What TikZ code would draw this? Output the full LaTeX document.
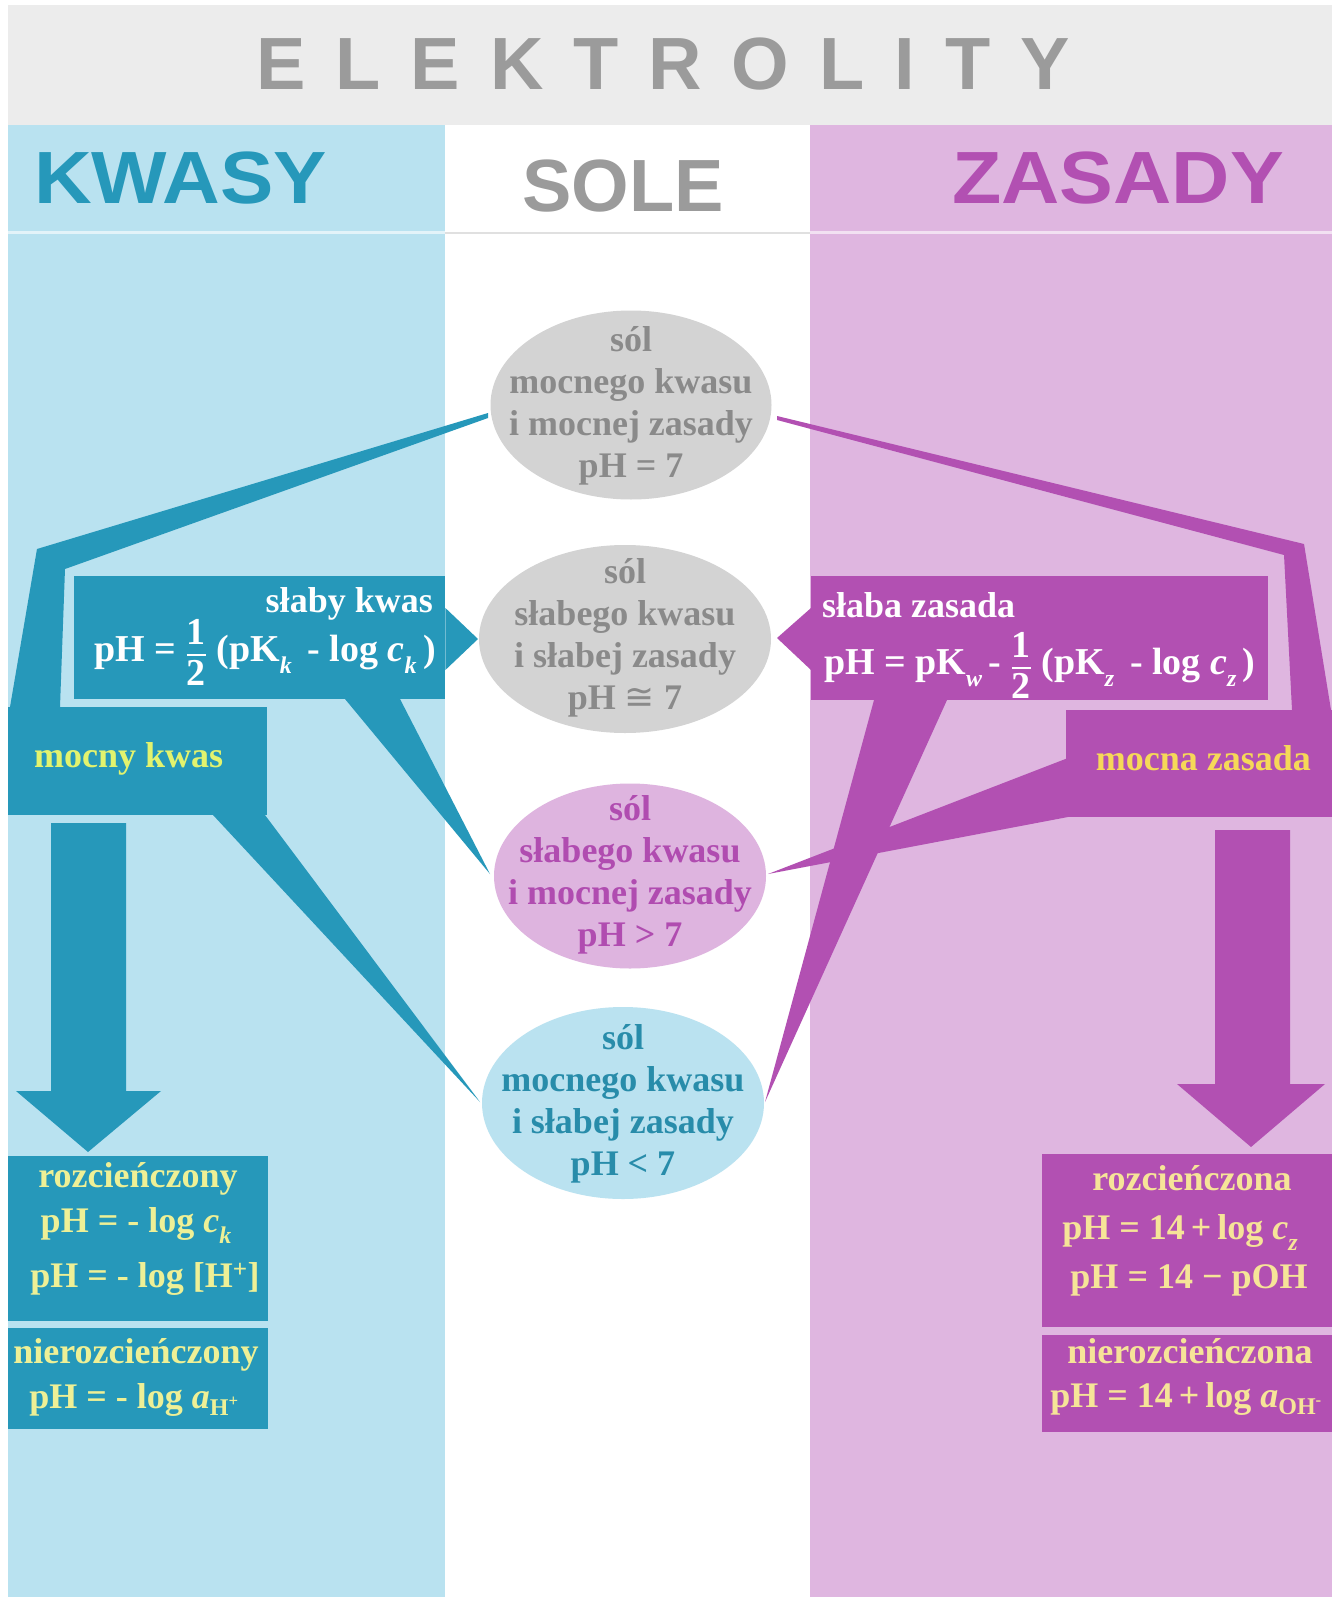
\documentclass[tikz,border=0pt]{standalone}
\usepackage{fontspec}
\usepackage{amsmath}
\usepackage{graphicx}
\setmainfont{Liberation Serif}
\newfontfamily\titlefont{Liberation Sans}
\newfontfamily\symfont{DejaVu Sans}
\usetikzlibrary{shapes.geometric,calc}

\definecolor{hdrBg}{RGB}{236,236,236}
\definecolor{hdrText}{RGB}{155,155,155}
\definecolor{bgBlue}{RGB}{185,226,240}
\definecolor{bgPink}{RGB}{223,182,224}
\definecolor{cTeal}{RGB}{38,152,186}
\definecolor{cPurple}{RGB}{178,80,178}
\definecolor{ellGrey}{RGB}{211,211,211}
\definecolor{txtGrey}{RGB}{138,138,138}
\definecolor{ellPink}{RGB}{222,180,223}
\definecolor{ellBlue}{RGB}{186,226,240}
\definecolor{txtTeal}{RGB}{40,140,170}
\definecolor{txtPurple}{RGB}{176,76,176}
\definecolor{ygreen}{RGB}{226,243,110}
\definecolor{pyellow}{RGB}{238,240,150}
\definecolor{cgold}{RGB}{246,216,88}
\definecolor{pcream}{RGB}{246,228,152}

\newcommand\lsub[2][0.32em]{\raisebox{-#1}{\fontsize{24}{24}\selectfont #2}}
\newcommand\myhalf{$\genfrac{}{}{1.6pt}{0}{\mbox{1}}{\mbox{2}}$}

\tikzset{
  ellbg/.style={ellipse, inner sep=0pt},
  etxt/.style={inner sep=0pt, align=center, font=\bfseries\fontsize{36}{42}\selectfont},
  lbl/.style={inner sep=0pt, font=\bfseries\fontsize{36}{42}\selectfont},
  flbl/.style={inner sep=0pt, font=\bfseries\fontsize{38}{42}\selectfont},
  tbox/.style={fill=cTeal, inner sep=0pt, anchor=north west},
  pbox/.style={fill=cPurple, inner sep=0pt, anchor=north west},
  ttl/.style={inner sep=0pt, font=\titlefont\bfseries\fontsize{74}{80}\selectfont},
}

\begin{document}
\begin{tikzpicture}[x=1pt,y=-1pt]
\path[use as bounding box] (0,0) rectangle (1342,1597);
\fill[white] (0,0) rectangle (1342,1597);

% header and columns
\fill[hdrBg] (8,5) rectangle (1332,125);
\fill[bgBlue] (8,125) rectangle (445,1597);
\fill[bgPink] (810,125) rectangle (1332,1597);
\draw[white, opacity=.6, line width=3pt] (8,233) -- (445,233);
\draw[black!12, line width=2pt] (445,233) -- (810,233);
\draw[white, opacity=.6, line width=3pt] (810,233) -- (1332,233);

% titles
\node[ttl, text=hdrText, anchor=base] (tElek) at (663,90) {\makebox[813pt][s]{E L E K T R O L I T Y}};
\node[ttl, text=cTeal, anchor=base west] (tKw) at (34,204) {\scalebox{1.08}[1]{KWASY}};
\node[ttl, text=hdrText, anchor=base west] (tSo) at (522,212) {SOLE};
\node[ttl, text=cPurple, anchor=base west] (tZa) at (952,204) {\scalebox{1.09}[1]{ZASADY}};

% connectors (left, teal)
\fill[cTeal] (488,413) -- (37,549) -- (10,707) -- (60,707) -- (65,569) -- (488,418) -- cycle;
\fill[cTeal] (345,699) -- (400,699) -- (490,874) -- cycle;
\fill[cTeal] (213,815) -- (265,815) -- (480,1102) -- cycle;
\fill[cTeal] (51,823) -- (126,823) -- (126,1091) -- (161,1091) -- (88,1152) -- (16,1091) -- (51,1091) -- cycle;
% connectors (right, purple)
\fill[cPurple] (777,416) -- (1304,544) -- (1331,710) -- (1292,710) -- (1284,555) -- (777,420) -- cycle;
\fill[cPurple] (1068,758) -- (1068,817) -- (768,874) -- cycle;
\fill[cPurple] (874,700) -- (947,700) -- (765,1102) -- cycle;
\fill[cPurple] (1215,830) -- (1290,830) -- (1290,1084) -- (1325,1084) -- (1251,1147) -- (1177,1084) -- (1215,1084) -- cycle;

% boxes
\node[tbox, minimum width=371pt, minimum height=123pt] (sk) at (74,576) {};
\fill[cTeal] (sk.east |- 0,608) -- (478,639) -- (sk.east |- 0,670) -- cycle;
\node[tbox, minimum width=259pt, minimum height=108pt] (mk) at (8,707) {};
\node[tbox, minimum width=260pt, minimum height=165pt] (rk) at (8,1156) {};
\node[tbox, minimum width=260pt, minimum height=101pt] (nk) at (8,1328) {};
\node[pbox, minimum width=457pt, minimum height=124pt] (sz) at (811,576) {};
\fill[cPurple] (sz.west |- 0,608) -- (777,638) -- (sz.west |- 0,670) -- cycle;
\node[pbox, minimum width=266pt, minimum height=107pt] (mz) at (1066,710) {};
\node[pbox, minimum width=290pt, minimum height=173pt] (rz) at (1042,1154) {};
\node[pbox, minimum width=290pt, minimum height=97pt] (nz) at (1042,1335) {};

% ellipses
\node[ellbg, fill=ellGrey, minimum width=281pt, minimum height=189pt] (e1) at (631,405) {};
\node[etxt, text=txtGrey] (e1t) at ($(e1.center)+(0,1)$)
  {sól\\mocnego kwasu\\i mocnej zasady\\pH = 7};
\node[ellbg, fill=ellGrey, minimum width=292pt, minimum height=188pt] (e2) at (625,639) {};
\node[etxt, text=txtGrey] (e2t) at ($(e2.center)+(0,-1)$)
  {sól\\słabego kwasu\\i słabej zasady\\pH {\symfont\mdseries ≅} 7};
\node[ellbg, fill=ellPink, minimum width=272pt, minimum height=185pt] (e3) at (630,876) {};
\node[etxt, text=txtPurple] (e3t) at ($(e3.center)+(0,-1)$)
  {sól\\słabego kwasu\\i mocnej zasady\\pH > 7};
\node[ellbg, fill=ellBlue, minimum width=282pt, minimum height=192pt] (e4) at (623,1103) {};
\node[etxt, text=txtTeal] (e4t) at ($(e4.center)+(0,1)$)
  {sól\\mocnego kwasu\\i słabej zasady\\pH < 7};

% box texts left
\node[lbl, text=white, anchor=base east] (skA) at (433,612) {słaby kwas};
\node[flbl, text=white, anchor=base west] (skB) at (94,661)
  {pH = \myhalf{} (pK\lsub{\itshape k}\, - log \textit{c}\lsub{\itshape k}\,)};
\node[lbl, text=ygreen, anchor=base west] (mkA) at (34,767) {mocny kwas};
\node[lbl, text=pyellow, anchor=base] (rkA) at (138,1187) {rozcieńczony};
\node[lbl, text=pyellow, anchor=base] (rkB) at (136,1232) {pH = - log \textit{c}\lsub{\itshape k}};
\node[lbl, text=pyellow, anchor=base] (rkC) at (145,1287) {pH = - log [H\textsuperscript{+}]};
\node[lbl, text=pyellow, anchor=base] (nkA) at (136,1363) {nierozcieńczony};
\node[lbl, text=pyellow, anchor=base] (nkB) at (134,1408) {pH = - log \textit{a}\lsub[0.22em]{H\textsuperscript{+}}};

% box texts right
\node[lbl, text=white, anchor=base west] (szA) at (822,617) {słaba zasada};
\node[flbl, text=white, anchor=base west] (szB) at (824,674)
  {pH = pK\lsub{\itshape w}\,- \myhalf{} (pK\lsub{\itshape z}\, - log \textit{c}\lsub{\itshape z}\,)};
\node[lbl, text=cgold, anchor=base east] (mzA) at (1311,770) {mocna zasada};
\node[lbl, text=pcream, anchor=base] (rzA) at (1192,1190) {rozcieńczona};
\node[lbl, text=pcream, anchor=base] (rzB) at (1180,1239) {pH = 14\,+\,log \textit{c}\lsub{\itshape z}};
\node[lbl, text=pcream, anchor=base] (rzC) at (1189,1288) {pH = 14 − pOH};
\node[lbl, text=pcream, anchor=base] (nzA) at (1190,1363) {nierozcieńczona};
\node[lbl, text=pcream, anchor=base] (nzB) at (1186,1407) {pH = 14\,+\,log \textit{a}\lsub[0.22em]{OH\textsuperscript{-}}};
\end{tikzpicture}
\end{document}
